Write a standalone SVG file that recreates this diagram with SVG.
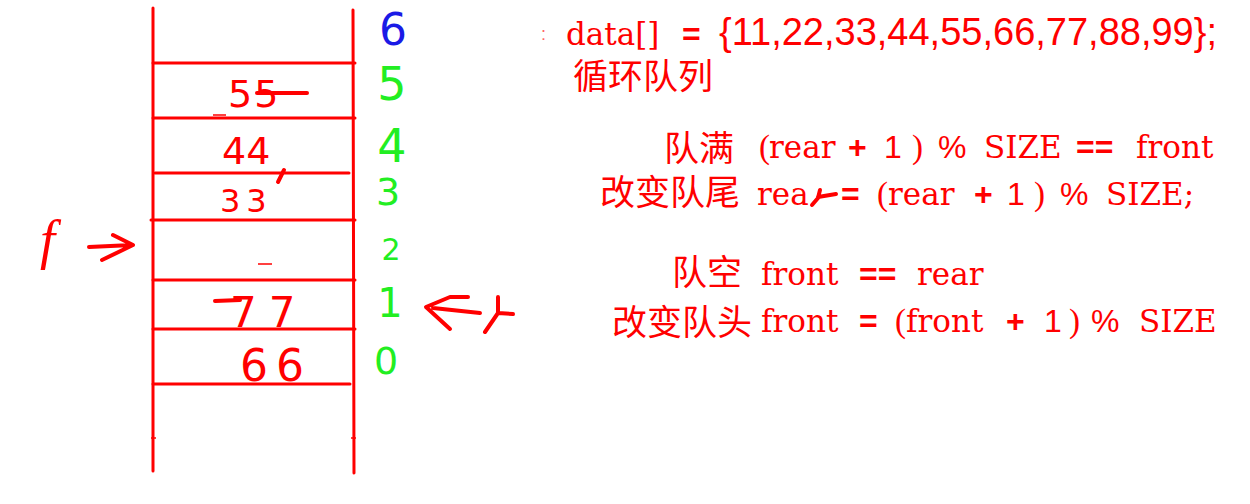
<svg xmlns="http://www.w3.org/2000/svg" width="1250" height="504" viewBox="0 0 1250 504">
<style>
.grid{stroke:#ff0000;stroke-width:3;fill:none;stroke-linecap:round}
.hand{stroke:#ff0000;stroke-width:4;fill:none;stroke-linecap:round;stroke-linejoin:round}
.thin{stroke:#ff0000;stroke-width:1.5;fill:none}
.idx{font-family:"DejaVu Sans",sans-serif;text-anchor:middle}
.val{font-family:"DejaVu Sans",sans-serif;fill:#ff0000}
.cjk{font-family:"Noto Sans CJK SC",sans-serif;font-size:35px;fill:#ff0000}
.line{fill:#ff0000}
.ser{font-family:"DejaVu Serif",serif;font-size:31px}
.par{font-family:"Liberation Serif",serif;font-size:33px}
.san{font-family:"Liberation Sans",sans-serif;font-size:32px;font-weight:normal}
.bold{font-family:"Liberation Sans",sans-serif;font-size:32px;font-weight:bold}
</style>
<rect width="1250" height="504" fill="#ffffff"/>
<g id="queue">
<line class="grid" x1="153" y1="8" x2="153" y2="471"/>
<line class="grid" x1="353" y1="10" x2="354" y2="473"/>
<line class="grid" x1="153" y1="63" x2="355" y2="63"/>
<line class="grid" x1="153" y1="118" x2="355" y2="118"/>
<line class="grid" x1="155" y1="173" x2="349" y2="173"/>
<line class="grid" x1="151" y1="220" x2="355" y2="220"/>
<line class="grid" x1="153" y1="280" x2="355" y2="280"/>
<line class="grid" x1="153" y1="329" x2="355" y2="329"/>
<line class="grid" x1="153" y1="384" x2="350" y2="384"/>
<line class="thin" x1="151" y1="438" x2="156" y2="438"/>
<line class="thin" x1="351" y1="438" x2="356" y2="438"/>
<line class="thin" x1="213" y1="115" x2="226" y2="115"/>
<line class="thin" x1="258" y1="264" x2="272" y2="264"/>
</g>
<g id="indices">
<text class="idx" x="393" y="45" font-size="44" fill="#1a1ae6">6</text>
<text class="idx" x="392" y="100" font-size="46" fill="#22ee22">5</text>
<text class="idx" x="392" y="162" font-size="46" fill="#22ee22">4</text>
<text class="idx" x="388" y="205" font-size="38" fill="#22ee22">3</text>
<text class="idx" x="391" y="260" font-size="30" fill="#22ee22">2</text>
<text class="idx" x="390" y="317" font-size="40" fill="#22ee22">1</text>
<text class="idx" x="386" y="374" font-size="38" fill="#22ee22">0</text>
</g>
<g id="values">
<text class="val" x="228" y="107" font-size="38" letter-spacing="2">55</text>
<line class="hand" x1="257" y1="93" x2="307" y2="93"/>
<text class="val" x="222" y="164" font-size="38">44</text>
<path class="hand" d="M284,170 L278,182"/>
<text class="val" x="220" y="212" font-size="32" letter-spacing="6">33</text>
<text class="val" x="230" y="327" font-size="42" letter-spacing="12">77</text>
<line class="hand" x1="215" y1="301" x2="240" y2="300"/>
<text class="val" x="240" y="381" font-size="44" letter-spacing="8">66</text>
</g>
<g id="front-pointer">
<text x="40" y="258" font-family="Liberation Serif, serif" font-style="italic" font-size="54" fill="#ff0000">f</text>
<path class="hand" d="M89,247 L132,245 M113,235 L133,245 L102,260"/>
</g>
<g id="rear-pointer">
<path class="hand" d="M468,297 L450,297 L426,307 L450,329 M433,308 L480,313"/>
<path class="hand" d="M498,297 L498,313 L513,314 M498,313 L485,332"/>
</g>
<g id="notes">
<text class="line" y="45"><tspan x="541" y="40" font-family="Liberation Sans, sans-serif" font-size="18" opacity="0.6">:</tspan><tspan class="ser" x="566" y="45">data[]</tspan><tspan class="bold" x="682">=</tspan><tspan class="san" x="719" style="font-size:38px">{11,22,33,44,55,66,77,88,99};</tspan></text>
<text class="cjk" x="573" y="89">循环队列</text>

<text class="cjk" x="664" y="161">队满</text>
<text class="line" y="158"><tspan class="par" x="759">(</tspan><tspan class="ser" x="769">rear</tspan><tspan class="bold" x="848">+</tspan><tspan class="san" x="884">1</tspan><tspan class="par" x="912">)</tspan><tspan class="san" x="938">%</tspan><tspan class="ser" x="984">SIZE</tspan><tspan class="bold" x="1076">==</tspan><tspan class="ser" x="1136">front</tspan></text>

<text class="cjk" x="600" y="205">改变队尾</text>
<text class="line" y="205"><tspan class="ser" x="757">rea</tspan><tspan class="bold" x="841">=</tspan><tspan class="par" x="877">(</tspan><tspan class="ser" x="888">rear</tspan><tspan class="bold" x="974">+</tspan><tspan class="san" x="1007">1</tspan><tspan class="par" x="1034">)</tspan><tspan class="san" x="1060">%</tspan><tspan class="ser" x="1106">SIZE;</tspan></text>
<path class="hand" d="M820,190 L818,198 L812,205 M818,197 L836,194"/>

<text class="cjk" x="672" y="285">队空</text>
<text class="line" y="285"><tspan class="ser" x="761">front</tspan><tspan class="bold" x="859">==</tspan><tspan class="ser" x="917">rear</tspan></text>

<text class="cjk" x="612" y="335">改变队头</text>
<text class="line" y="332"><tspan class="ser" x="761">front</tspan><tspan class="bold" x="859">=</tspan><tspan class="par" x="895">(</tspan><tspan class="ser" x="906">front</tspan><tspan class="bold" x="1006">+</tspan><tspan class="san" x="1044">1</tspan><tspan class="par" x="1069">)</tspan><tspan class="san" x="1091">%</tspan><tspan class="ser" x="1139">SIZE</tspan></text>
</g>
</svg>
